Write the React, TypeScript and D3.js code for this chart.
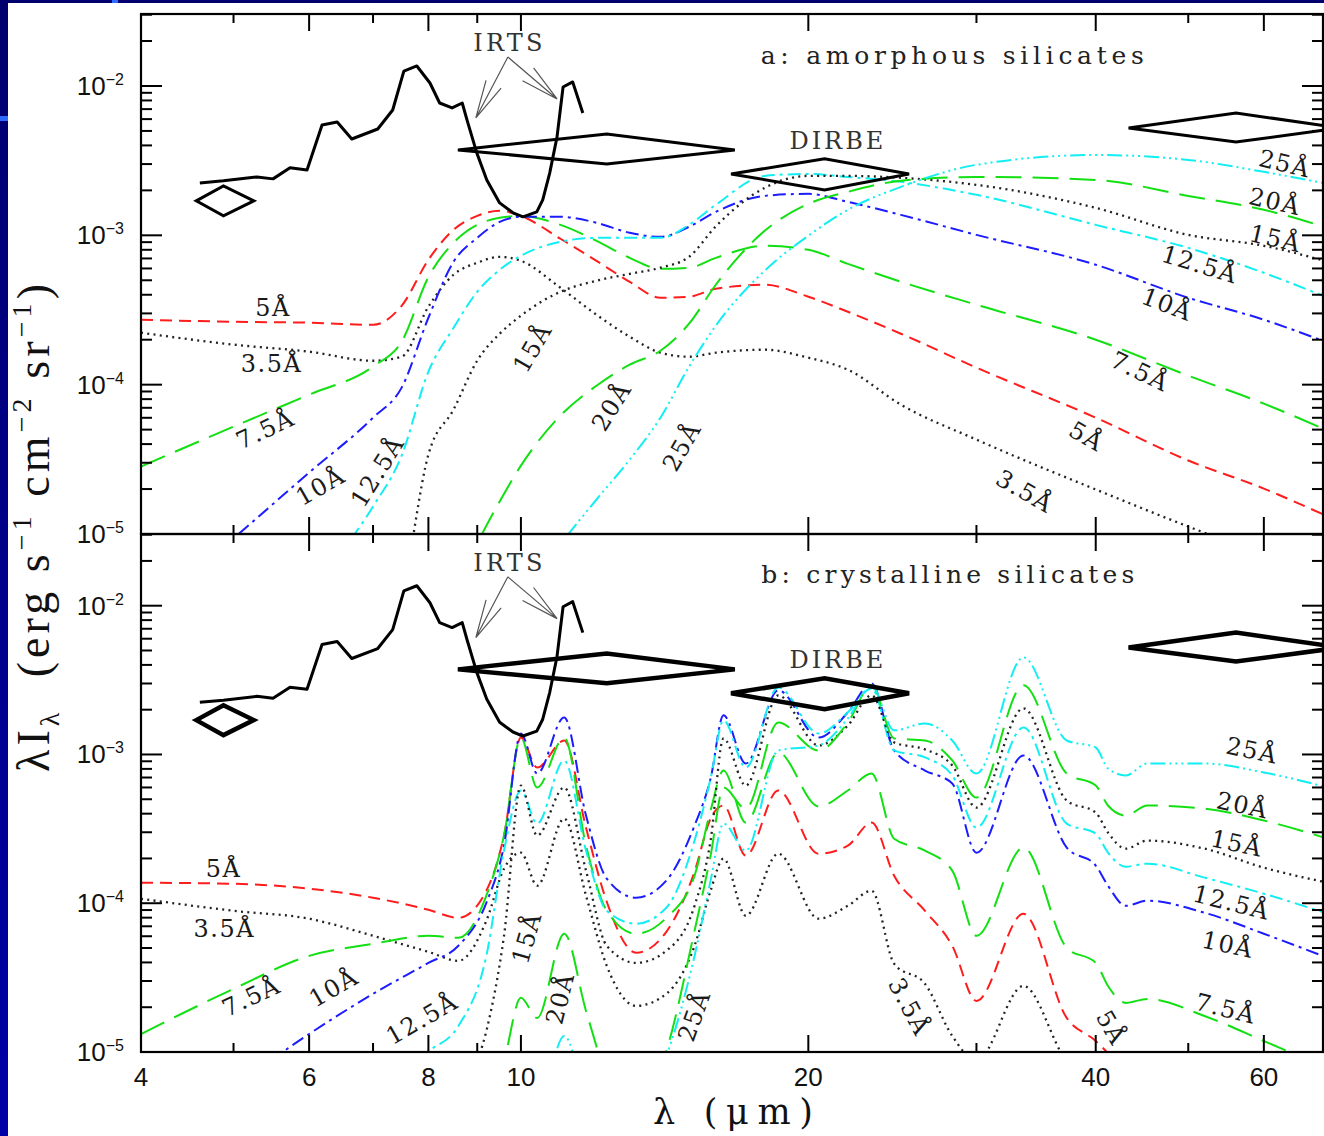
import React from 'react';
import * as d3 from 'd3';

// wavelength grid (micron) for panel a, values are log10(lambda I_lambda)
const lamA = [4, 5, 6, 7, 7.5, 8, 8.5, 9, 9.5, 10, 11, 12, 13, 14, 15, 16, 18, 20, 22, 25, 30, 40, 50, 60, 70];
const amo35 = [-3.652, -3.732, -3.779, -3.84, -3.813, -3.478, -3.264, -3.184, -3.144, -3.171, -3.351, -3.532, -3.679, -3.786, -3.813, -3.786, -3.766, -3.819, -3.9, -4.134, -4.368, -4.702, -4.95, -5.14, -5.3];
const amo5 = [-3.565, -3.579, -3.585, -3.599, -3.472, -3.164, -2.963, -2.87, -2.836, -2.87, -3.023, -3.171, -3.311, -3.418, -3.411, -3.358, -3.331, -3.411, -3.512, -3.659, -3.886, -4.221, -4.508, -4.696, -4.883];
const amo75 = [-4.548, -4.281, -4.067, -3.879, -3.712, -3.28, -3.05, -2.93, -2.883, -2.87, -2.93, -3.037, -3.151, -3.224, -3.217, -3.151, -3.07, -3.097, -3.191, -3.311, -3.465, -3.699, -3.94, -4.127, -4.308];
const amo10 = [-5.572, -5.03, -4.589, -4.221, -4.02, -3.552, -3.177, -3.017, -2.91, -2.876, -2.876, -2.916, -2.983, -3.01, -2.943, -2.843, -2.736, -2.722, -2.776, -2.863, -2.997, -3.197, -3.418, -3.565, -3.719];
const amo125 = [-6.3, -5.9, -5.371, -4.816, -4.475, -3.913, -3.619, -3.378, -3.231, -3.137, -3.043, -3.017, -3.017, -3.017, -2.93, -2.796, -2.602, -2.589, -2.609, -2.642, -2.729, -2.93, -3.084, -3.251, -3.418];
const amo15 = [-7, -6.6, -6.3, -6, -5.44, -4.468, -4.167, -3.839, -3.659, -3.538, -3.378, -3.304, -3.258, -3.217, -3.144, -2.94, -2.682, -2.602, -2.602, -2.615, -2.662, -2.816, -2.997, -3.07, -3.177];
const amo20 = [-7.5, -7, -6.6, -6.3, -6.1, -5.9, -5.5, -5.07, -4.783, -4.542, -4.207, -4.007, -3.866, -3.773, -3.592, -3.331, -2.97, -2.789, -2.709, -2.635, -2.609, -2.629, -2.736, -2.829, -2.95];
const amo25 = [-8, -7.6, -7.2, -6.9, -6.7, -6.5, -6.3, -6, -5.7, -5.45, -5.07, -4.769, -4.502, -4.221, -3.88, -3.605, -3.237, -3.003, -2.829, -2.676, -2.528, -2.462, -2.495, -2.575, -2.656];

// panel b (crystalline)
const lamB = [4, 5, 6, 7, 8, 8.6, 9.2, 9.6, 10, 10.4, 11.1, 11.7, 12.3, 13.2, 14.2, 15.2, 15.8, 16.3, 17.2, 18.6, 20.5, 22, 23.3, 24.6, 26.5, 28.3, 30, 33.6, 37.3, 40, 41.2, 43, 45.3, 52, 60, 70];
const cry35 = [-3.97, -4.051, -4.104, -4.219, -4.327, -4.387, -4.118, -3.768, -3.66, -3.882, -3.431, -3.949, -4.421, -4.69, -4.609, -4.286, -3.916, -3.7, -4.084, -3.667, -4.104, -4.017, -3.916, -4.407, -4.542, -4.892, -5.061, -4.556, -5.061, -5.195, -5.263, -5.33, -5.364, -5.498, -5.633, -5.768];
const cry5 = [-3.862, -3.869, -3.902, -3.963, -4.044, -4.098, -3.916, -3.545, -2.886, -3.088, -2.906, -3.492, -3.99, -4.333, -4.192, -3.788, -3.431, -3.343, -3.68, -3.242, -3.667, -3.613, -3.458, -3.815, -4.051, -4.286, -4.657, -4.071, -4.771, -4.926, -5.007, -5.128, -5.195, -5.33, -5.465, -5.599];
const cry75 = [-4.879, -4.576, -4.354, -4.273, -4.219, -4.232, -3.949, -3.545, -2.886, -3.222, -2.886, -3.613, -4.051, -4.205, -4.098, -3.815, -3.377, -3.108, -3.458, -2.987, -3.35, -3.242, -3.128, -3.566, -3.646, -3.781, -4.219, -3.626, -4.3, -4.401, -4.556, -4.67, -4.643, -4.758, -4.926, -5.114];
const cry10 = [-5.633, -5.229, -4.879, -4.609, -4.401, -4.286, -3.997, -3.613, -2.859, -3.128, -2.751, -3.411, -3.835, -3.963, -3.848, -3.478, -3.162, -2.737, -3.061, -2.569, -2.886, -2.717, -2.522, -2.973, -3.108, -3.195, -3.66, -3.007, -3.626, -3.747, -3.882, -4.017, -3.983, -4.064, -4.205, -4.367];
const cry125 = [-6.003, -5.734, -5.465, -5.229, -4.993, -4.825, -4.354, -3.646, -3.242, -3.465, -3.04, -3.646, -4.051, -4.138, -4.03, -3.579, -3.162, -2.771, -3.088, -2.549, -2.859, -2.717, -2.556, -2.973, -3.02, -3.141, -3.492, -2.818, -3.465, -3.532, -3.66, -3.754, -3.734, -3.828, -3.936, -4.071];
const cry15 = [-7.35, -6.879, -6.475, -6.071, -5.532, -5.263, -4.859, -4.219, -3.209, -3.545, -3.222, -3.781, -4.286, -4.401, -4.32, -4.017, -3.579, -2.892, -3.209, -2.603, -2.939, -2.805, -2.603, -2.919, -2.966, -3.074, -3.357, -2.69, -3.31, -3.391, -3.525, -3.633, -3.579, -3.633, -3.761, -3.862];
const cry20 = [-8.024, -7.35, -6.811, -6.34, -5.936, -5.667, -5.397, -5.061, -4.636, -4.771, -4.205, -4.724, -5.162, -5.397, -4.993, -4.185, -3.68, -3.222, -3.364, -2.785, -2.973, -2.785, -2.535, -2.892, -2.906, -3.04, -3.29, -2.535, -3.128, -3.209, -3.343, -3.411, -3.343, -3.364, -3.444, -3.566];
const cry25 = [-8.697, -8.024, -7.485, -7.013, -6.609, -6.34, -6.003, -5.667, -5.263, -5.397, -4.892, -5.33, -5.734, -5.397, -5.027, -4.354, -3.848, -3.465, -3.646, -2.973, -2.939, -2.758, -2.542, -2.838, -2.791, -2.906, -3.128, -2.347, -2.906, -2.953, -3.094, -3.141, -3.061, -3.061, -3.121, -3.222];

// IRTS spectrum
const irtsLam = [4.61, 4.88, 5.29, 5.5, 5.73, 5.97, 6.19, 6.42, 6.65, 7.08, 7.34, 7.54, 7.78, 8.03, 8.22, 8.47, 8.68, 8.78, 8.99, 9.21, 9.5, 9.81, 10.05, 10.39, 10.54, 10.72, 10.91, 11.07, 11.33, 11.61];
const irtsLog = [-2.649, -2.635, -2.609, -2.622, -2.548, -2.562, -2.261, -2.241, -2.355, -2.288, -2.161, -1.9, -1.866, -1.98, -2.114, -2.147, -2.114, -2.227, -2.448, -2.629, -2.783, -2.849, -2.876, -2.843, -2.763, -2.582, -2.341, -2.007, -1.973, -2.181];

// DIRBE / IRTS band points: [left, centre, right] lambda, [low, centre, high] log value
const bandLam = [[4.57, 4.88, 5.25], [8.59, 12.3, 16.75], [16.6, 20.8, 25.5], [43.3, 56.1, 72.2]];
const bandLog = [[-2.87, -2.769, -2.669], [-2.522, -2.428, -2.321], [-2.696, -2.589, -2.488], [-2.375, -2.281, -2.181]];

const xMajor = [6, 8, 10, 20, 40, 60];
const xMinor = [5, 7, 9, 30, 50];
const xLabels = [4, 6, 8, 10, 20, 40, 60];
const decades = [-5, -4, -3, -2];

const amoLabelText = ['5Å', '3.5Å', '7.5Å', '10Å', '12.5Å', '15Å', '20Å', '25Å', '25Å', '20Å', '15Å', '12.5Å', '10Å', '7.5Å', '5Å', '3.5Å'];
const amoLabelLam = [5.5, 5.48, 5.4, 6.17, 7.08, 10.29, 12.45, 14.75, 63.1, 61.6, 61.7, 51.4, 47.5, 44.5, 39.1, 33.7];
const amoLabelLog = [-3.485, -3.86, -4.301, -4.682, -4.582, -3.753, -4.147, -4.415, -2.522, -2.776, -3.023, -3.197, -3.465, -3.913, -4.348, -4.716];
const amoLabelRot = [0, 0, -25, -30, -58, -60, -58, -60, 13, 13, 13, 17, 21, 26, 30, 30];

const cryLabelText = ['5Å', '3.5Å', '7.5Å', '10Å', '12.5Å', '15Å', '20Å', '25Å', '3.5Å', '5Å', '25Å', '20Å', '15Å', '12.5Å', '10Å', '7.5Å'];
const cryLabelLam = [4.88, 4.89, 5.22, 6.37, 7.88, 10.15, 11.0, 15.2, 25.5, 41.5, 58.3, 57.0, 56.2, 55.5, 55.0, 54.7];
const cryLabelLog = [-3.768, -4.172, -4.63, -4.569, -4.778, -4.232, -4.64, -4.758, -4.697, -4.838, -2.975, -3.343, -3.599, -3.997, -4.28, -4.71];
const cryLabelRot = [0, 0, -25, -30, -30, -74, -76, -70, 62, 60, 12, 12, 12, 14, 12, 14];

const STYLE = [
  { stroke: '#222', dash: '2 4.3', w: 2.3 },
  { stroke: '#ff1c1c', dash: '12 7', w: 2 },
  { stroke: '#12e012', dash: '26 11', w: 2 },
  { stroke: '#1c1cff', dash: '13 5 3 5', w: 2 },
  { stroke: '#12eef2', dash: '13 5 3 5', w: 2 },
  { stroke: '#222', dash: '2 4.3', w: 2.3 },
  { stroke: '#12e012', dash: '26 11', w: 2 },
  { stroke: '#12eef2', dash: '15 4 2 4 2 4 2 4', w: 2 },
];

const serif = "'DejaVu Serif', 'Liberation Serif', serif";
const times = "'Liberation Serif', 'DejaVu Serif', serif";
const sans = "'Liberation Sans', Arial, sans-serif";

function arrowPath(x1: number, y1: number, x2: number, y2: number) {
  const a = Math.atan2(y1 - y2, x1 - x2);
  const L = 39, s = 0.22;
  const b1 = [x2 + L * Math.cos(a + s), y2 + L * Math.sin(a + s)];
  const b2 = [x2 + L * Math.cos(a - s), y2 + L * Math.sin(a - s)];
  return `M${x1},${y1}L${x2},${y2}M${b1[0]},${b1[1]}L${x2},${y2}L${b2[0]},${b2[1]}`;
}

export default function App() {
  const x = d3.scaleLog().domain([4, 69.2]).range([141, 1323]);
  const yMax = 10 ** -1.518;
  const left = 141, right = 1323;

  const panels = [
    {
      id: 'a', top: 14, bottom: 534,
      y: d3.scaleLog().domain([1e-5, yMax]).range([534, 14]),
      lam: lamA, series: [amo35, amo5, amo75, amo10, amo125, amo15, amo20, amo25],
      lt: amoLabelText, ll: amoLabelLam, lg: amoLabelLog, lr: amoLabelRot,
      title: 'a: amorphous silicates', titleLam: 28.3, titleLen: 383, dw: 3,
    },
    {
      id: 'b', top: 534, bottom: 1052,
      y: d3.scaleLog().domain([1e-5, yMax]).range([1052, 534]),
      lam: lamB, series: [cry35, cry5, cry75, cry10, cry125, cry15, cry20, cry25],
      lt: cryLabelText, ll: cryLabelLam, lg: cryLabelLog, lr: cryLabelRot,
      title: 'b: crystalline silicates', titleLam: 28.0, titleLen: 373, dw: 4.5,
    },
  ];

  return (
    <svg width={1324} height={1136} style={{ position: 'absolute', left: 0, top: 0, display: 'block' }}>
      <defs>
        <linearGradient id="strip" x1="0" y1="0" x2="0" y2="1">
          <stop offset="0" stopColor="#00006e" />
          <stop offset="1" stopColor="#0000a6" />
        </linearGradient>
        {panels.map(p => (
          <clipPath key={p.id} id={'clip' + p.id}>
            <rect x={left} y={p.top} width={right - left} height={p.bottom - p.top} />
          </clipPath>
        ))}
      </defs>
      <rect x={0} y={0} width={1324} height={1136} fill="#fff" />
      <rect x={0} y={0} width={8} height={1136} fill="url(#strip)" />
      <rect x={0} y={0} width={1324} height={3} fill="#00006e" />
      <rect x={112} y={0} width={6} height={3} fill="#2f6bff" />
      <rect x={0} y={116} width={8} height={5} fill="#2f6bff" />

      {panels.map(p => {
        const y = p.y;
        const line = d3.line<number[]>()
          .x(d => x(d[0]))
          .y(d => y(10 ** d[1]))
          .curve(d3.curveMonotoneX);
        const irts = d3.line<number[]>().x(d => x(d[0])).y(d => y(10 ** d[1]));
        const ticks: { py: number; major: boolean }[] = [];
        decades.forEach(d => {
          for (let m = 1; m <= 9; m++) {
            const py = y(m * 10 ** d);
            if (py >= p.top - 0.5) ticks.push({ py, major: m === 1 });
          }
        });
        const ax0 = x(9.69), ay0 = y(10 ** -1.806);
        return (
          <g key={p.id}>
            <g clipPath={`url(#clip${p.id})`}>
              {p.series.map((vals, i) => (
                <path key={i}
                  d={line(p.lam.map((l, j) => [l, vals[j]])) || ''}
                  fill="none" stroke={STYLE[i].stroke} strokeWidth={STYLE[i].w}
                  strokeDasharray={STYLE[i].dash} />
              ))}
              <path d={irts(irtsLam.map((l, j) => [l, irtsLog[j]])) || ''} fill="none" stroke="#000" strokeWidth={3} strokeLinejoin="round" />
              {bandLam.map((b, i) => {
                const v = bandLog[i];
                const pts = [[b[0], v[1]], [b[1], v[2]], [b[2], v[1]], [b[1], v[0]]];
                return (
                  <path key={i}
                    d={'M' + pts.map(q => `${x(q[0])},${y(10 ** q[1])}`).join('L') + 'Z'}
                    fill="none" stroke="#000" strokeWidth={p.dw} strokeLinejoin="miter" />
                );
              })}
            </g>
            <path d={arrowPath(ax0, ay0, x(8.97), y(10 ** -2.214))} fill="none" stroke="#555" strokeWidth={1.2} />
            <path d={arrowPath(ax0, ay0, x(10.91), y(10 ** -2.087))} fill="none" stroke="#555" strokeWidth={1.2} />
            <text x={x(9.69)} y={y(10 ** -1.712)} textAnchor="middle" dominantBaseline="central"
              fontFamily={serif} fontSize={24} fill="#333" textLength={69} lengthAdjust="spacing">IRTS</text>
            <text x={x(21.4)} y={y(10 ** -2.368)} textAnchor="middle" dominantBaseline="central"
              fontFamily={serif} fontSize={24} fill="#333" textLength={94} lengthAdjust="spacing">DIRBE</text>
            <text x={x(p.titleLam)} y={y(10 ** -1.793)} textAnchor="middle" dominantBaseline="central"
              fontFamily={serif} fontSize={25} fill="#222" textLength={p.titleLen} lengthAdjust="spacing">{p.title}</text>

            {p.lt.map((t, i) => {
              const cx = x(p.ll[i]), cy = y(10 ** p.lg[i]);
              return (
                <text key={i} transform={`translate(${cx},${cy}) rotate(${p.lr[i]})`}
                  textAnchor="middle" dominantBaseline="central" fontFamily={serif}
                  fontSize={24} letterSpacing={1.5} fill="#1a1a1a">{t}</text>
              );
            })}

            {/* frame */}
            <rect x={left} y={p.top} width={right - left} height={p.bottom - p.top} fill="none" stroke="#000" strokeWidth={2.2} />
            {ticks.map((t, i) => (
              <g key={i} stroke="#000" strokeWidth={2}>
                <line x1={left} x2={left + (t.major ? 21 : 11)} y1={t.py} y2={t.py} />
                <line x1={right} x2={right - (t.major ? 21 : 11)} y1={t.py} y2={t.py} />
              </g>
            ))}
            {[...xMajor.map(v => ({ v, len: 17 })), ...xMinor.map(v => ({ v, len: 9 }))].map((t, i) => (
              <g key={'x' + i} stroke="#000" strokeWidth={2}>
                <line x1={x(t.v)} x2={x(t.v)} y1={p.top} y2={p.top + t.len} />
                <line x1={x(t.v)} x2={x(t.v)} y1={p.bottom} y2={p.bottom - t.len} />
              </g>
            ))}
            {decades.map(d => (
              <text key={d} x={124} y={y(10 ** d) + 9} textAnchor="end" fontFamily={sans} fontSize={26} fill="#111">
                10<tspan fontSize={16} dy={-10}>{'\u2212' + (-d)}</tspan>
              </text>
            ))}
          </g>
        );
      })}

      {xLabels.map(v => (
        <text key={v} x={x(v)} y={1086} textAnchor="middle" fontFamily={sans} fontSize={26} fill="#111">{v}</text>
      ))}
      <text x={733} y={1124} textAnchor="middle" fontFamily={serif} fontSize={35} fill="#111"
        textLength={160} lengthAdjust="spacing">λ (μm)</text>
      <text transform="translate(49,528) rotate(-90)" textAnchor="middle" fontFamily={times} fontSize={46}
        fill="#111" textLength={488} lengthAdjust="spacing">
        λI<tspan fontSize={28} dy={10}>λ</tspan>
        <tspan dy={-10}>{'\u00a0\u00a0(erg s'}</tspan>
        <tspan fontSize={28} dy={-18}>{'\u2212' + '1'}</tspan>
        <tspan dy={18}>{'\u00a0cm'}</tspan>
        <tspan fontSize={28} dy={-18}>{'\u2212' + '2'}</tspan>
        <tspan dy={18}>{'\u00a0sr'}</tspan>
        <tspan fontSize={28} dy={-18}>{'\u2212' + '1'}</tspan>
        <tspan dy={18}>)</tspan>
      </text>
    </svg>
  );
}
